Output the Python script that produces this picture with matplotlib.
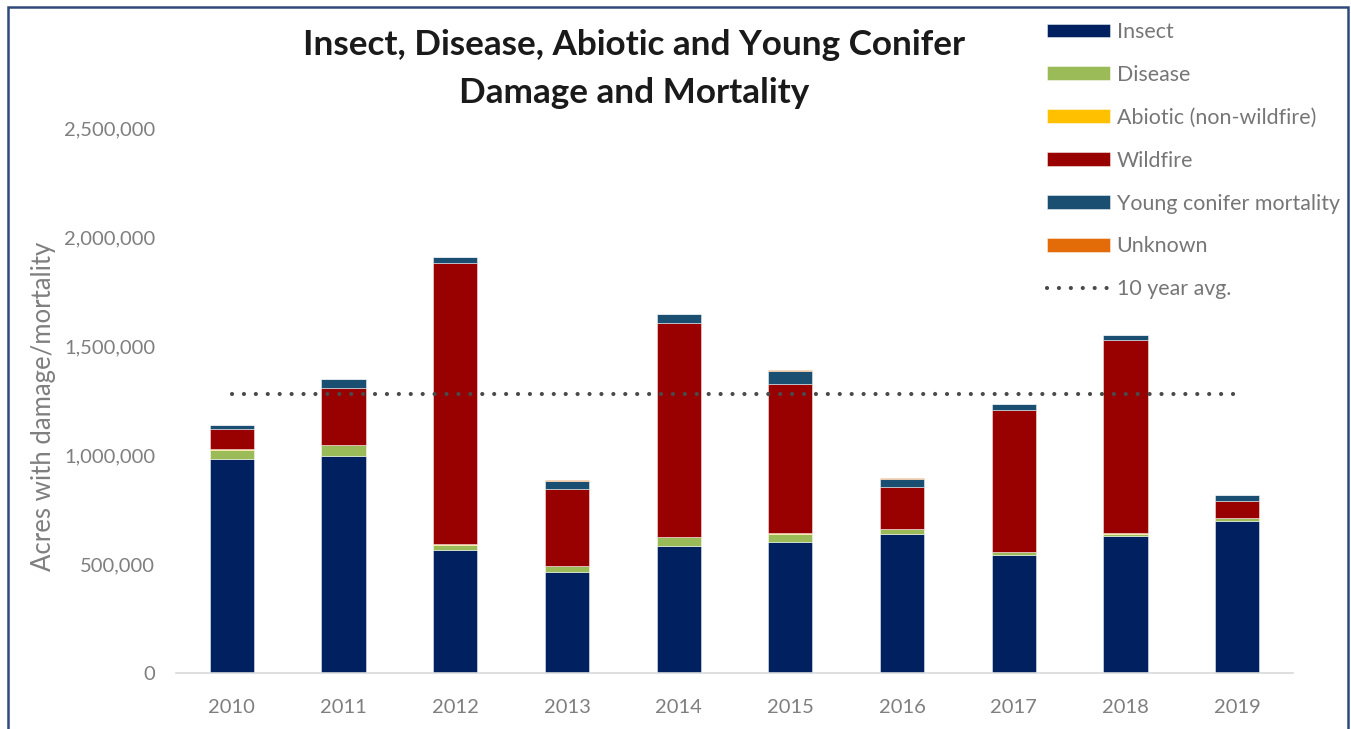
import matplotlib
matplotlib.use("Agg")
import matplotlib.pyplot as plt
import numpy as np
from matplotlib.patches import Rectangle

plt.rcParams["font.family"] = ["Lato", "DejaVu Sans"]

years = ["2010", "2011", "2012", "2013", "2014", "2015", "2016", "2017", "2018", "2019"]
insect = [980000, 995000, 566000, 463000, 584000, 601000, 638000, 541000, 630000, 699000]
disease = [45000, 52000, 23000, 29000, 38000, 38000, 21000, 12000, 8000, 10000]
abiotic = [1000, 1000, 1000, 1000, 1000, 2000, 1000, 4000, 3000, 2000]
wildfire = [92000, 261000, 1291000, 351000, 984000, 686000, 192000, 648000, 888000, 80000]
young_conifer = [18000, 40000, 27000, 38000, 41000, 60000, 40000, 30000, 20000, 25000]
unknown = [2000, 1000, 1000, 2000, 1000, 2000, 1000, 1000, 1000, 1000]
ten_year_avg = 1281000

series = [
    ("Insect", insect, "#002060"),
    ("Disease", disease, "#9bbb59"),
    ("Abiotic (non-wildfire)", abiotic, "#ffc000"),
    ("Wildfire", wildfire, "#990000"),
    ("Young conifer mortality", young_conifer, "#1b4f72"),
    ("Unknown", unknown, "#e36c09"),
]

W, H = 1351, 729
fig = plt.figure(figsize=(W / 100, H / 100), dpi=100)
ax = fig.add_axes([176 / W, 56 / H, 1117 / W, 545 / H])

x = np.arange(len(years))
bottom = np.zeros(len(years))
for name, vals, col in series:
    ax.bar(x, vals, 0.395, bottom=bottom, color=col, label=name,
           edgecolor=(1, 1, 1, 0.55), linewidth=0.6)
    bottom += np.array(vals)

ax.plot(x, [ten_year_avg] * len(years), color="#4a4a4a", lw=3.0,
        linestyle=(0, (0.01, 2.85)), dash_capstyle="round", label="10 year avg.")

ax.set_xlim(-0.5, len(years) - 0.5)
ax.set_ylim(0, 2500000)
ax.set_yticks(np.arange(0, 2500001, 500000))
ax.set_yticklabels([f"{v:,}" for v in range(0, 2500001, 500000)])
ax.set_xticks(x)
ax.set_xticklabels(years)
ax.tick_params(axis="both", length=0, labelsize=14.5, colors="#7f7f7f")
ax.tick_params(axis="y", pad=15)
ax.tick_params(axis="x", pad=19)
for s in ["top", "right", "left"]:
    ax.spines[s].set_visible(False)
ax.spines["bottom"].set_color("#d9d9d9")
ax.spines["bottom"].set_linewidth(1.2)

fig.text(44 / W, 1 - 406 / H, "Acres with damage/mortality", rotation=90,
         ha="center", va="center", fontsize=18.5, color="#7f7f7f")

fig.text(634 / W, 1 - 45 / H, "Insect, Disease, Abiotic and Young Conifer",
         ha="center", va="center", fontsize=25.3, fontweight="bold", color="#1a1a1a")
fig.text(634 / W, 1 - 93 / H, "Damage and Mortality",
         ha="center", va="center", fontsize=25.3, fontweight="bold", color="#1a1a1a")

handles, labels = ax.get_legend_handles_labels()
# line handle comes first from matplotlib, move it to the end like the original
handles = handles[1:] + handles[:1]
labels = labels[1:] + labels[:1]
leg = fig.legend(handles, labels, loc="upper left",
                 bbox_to_anchor=(1047 / W, 1 - 22 / H), frameon=False,
                 fontsize=15.4, handlelength=2.95, handleheight=0.62,
                 handletextpad=0.3, labelspacing=1.07, borderpad=0, borderaxespad=0)
for t in leg.get_texts():
    t.set_color("#767676")

fig.patches.append(Rectangle((8 / W, -0.05), 1340 / W, 1 - 7 / H + 0.05,
                             transform=fig.transFigure, fill=False,
                             edgecolor="#2f4a7a", linewidth=1.8))

fig.savefig("out.png", dpi=100, facecolor="white")
